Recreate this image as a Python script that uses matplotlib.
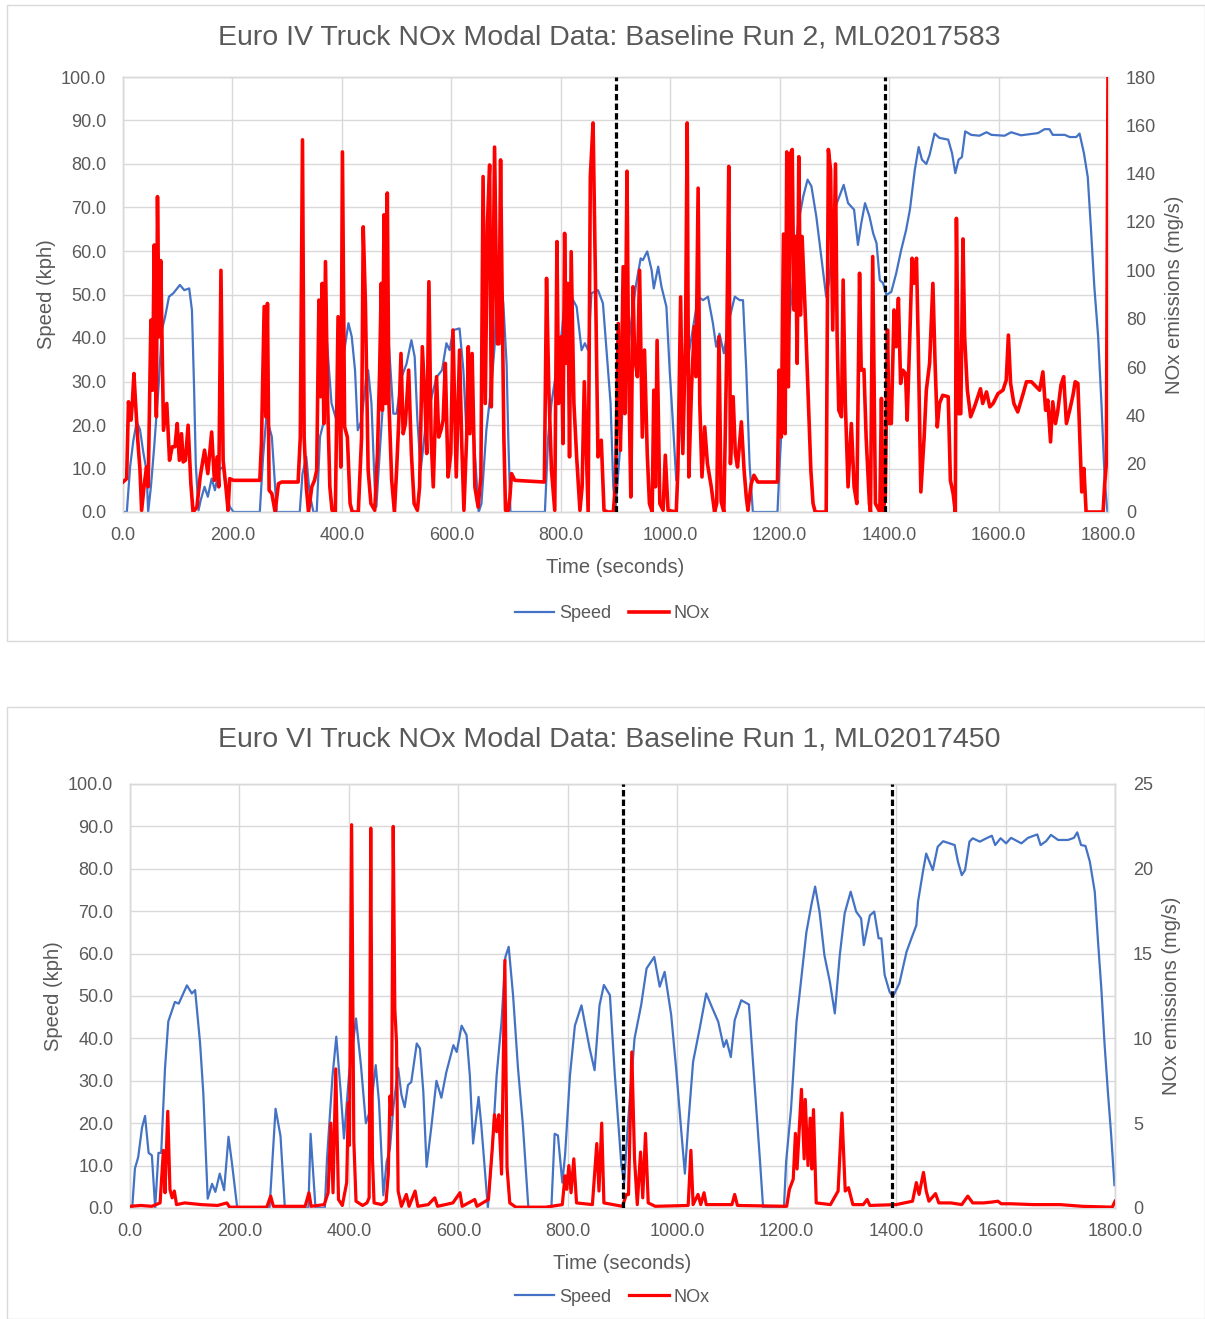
import numpy as np
import matplotlib.pyplot as plt
from matplotlib.patches import Rectangle

plt.rcParams['font.family'] = ['Liberation Sans', 'DejaVu Sans']

# ---- Euro IV run (top) ----
iv_speed_t = [0, 7, 13, 19, 25, 31, 37, 43, 46, 51, 57, 65, 71, 77, 84, 92, 104, 112, 121, 126, 130, 133, 138, 142,
              149, 155, 162, 168, 175, 183, 189, 195, 202, 250, 256, 262, 272, 278, 281, 323, 328, 335, 341, 348, 354,
              360, 366, 372, 381, 390, 399, 412, 418, 424, 429, 436, 445, 448, 454, 460, 463, 469, 479, 485, 494, 500,
              509, 518, 527, 533, 538, 544, 552, 564, 573, 583, 591, 597, 603, 615, 622, 628, 637, 643, 650, 655, 664,
              673, 679, 685, 695, 701, 704, 708, 771, 777, 783, 792, 801, 810, 819, 829, 838, 844, 850, 856, 868, 877,
              883, 891, 896, 900, 908, 917, 929, 938, 946, 950, 958, 966, 970, 978, 984, 993, 999, 1005, 1011, 1017,
              1026, 1039, 1051, 1060, 1069, 1078, 1084, 1090, 1098, 1109, 1118, 1127, 1133, 1139, 1145, 1151, 1196,
              1200, 1206, 1215, 1224, 1233, 1243, 1251, 1258, 1267, 1276, 1285, 1291, 1300, 1309, 1317, 1325, 1336,
              1343, 1349, 1356, 1364, 1371, 1377, 1383, 1389, 1395, 1404, 1413, 1422, 1431, 1438, 1447, 1454, 1460,
              1468, 1474, 1483, 1492, 1508, 1515, 1521, 1527, 1533, 1539, 1550, 1565, 1578, 1587, 1611, 1623, 1641,
              1672, 1684, 1693, 1699, 1721, 1730, 1742, 1748, 1756, 1763, 1769, 1775, 1782, 1788, 1794, 1799]
iv_speed = [0, 0, 10.4, 16.5, 20.7, 19, 13.8, 9.5, 0, 5.8, 15, 28.8, 41.8, 44.9, 49.5, 50.3, 52.2, 51, 51.4, 46.4, 28,
            11, 0.4, 2.7, 5.8, 3.5, 7.7, 5, 9.6, 10.4, 5, 1.2, 0, 0, 12.7, 21.9, 17.3, 5.8, 0, 0, 8.8, 12.7, 4.2, 0, 0,
            17.3, 20.3, 40.3, 25, 21.1, 32.6, 43.4, 40.3, 32.6, 18.8, 21.1, 31.8, 32.6, 25, 5.8, 1.2, 13.4, 32.6, 40.3,
            22.6, 22.6, 31, 34, 39.5, 35.7, 21.1, 9.6, 18.8, 26.5, 31, 32.6, 38.8, 37.2, 41.8, 42.2, 32.6, 17.3, 25,
            13.4, 0, 1.9, 18.8, 28.8, 38, 58.7, 48, 34, 17.3, 0, 0, 17.3, 25, 32.6, 40.3, 51.8, 49.5, 47.2, 37.2, 38.8,
            37.2, 50.3, 51, 48, 38, 25, 5.8, 0.4, 14.2, 31, 44, 52.6, 58.3, 57.9, 59.9, 55.6, 51.4, 56.4, 51.8, 47.2,
            32.6, 20.3, 7.3, 17.3, 30.3, 40.3, 49.5, 48.7, 49.5, 43.4, 38, 41, 36.5, 44.9, 49.5, 48.7, 48.7, 32.6, 11.1,
            0, 0, 11.1, 25, 40.3, 52.6, 65.6, 72.5, 76.4, 74.9, 67.9, 58.7, 49.5, 53.3, 69.5, 72.5, 75.2, 71, 69.5,
            61.4, 66.3, 71, 68, 64, 61.8, 53.3, 52.6, 49.9, 50.6, 54.9, 60.2, 64.8, 69.5, 78.7, 83.9, 81, 80, 82.1, 87,
            86, 85.6, 82.5, 77.9, 81, 81.6, 87.5, 86.7, 86.5, 87.3, 86.7, 86.5, 87.3, 86.6, 87.1, 88, 88, 86.7, 86.7,
            86.2, 86.2, 87, 82.5, 77, 64.8, 51.8, 40.3, 25, 7.3, 0]

iv_nox_t = [0, 6.7, 10, 14.6, 17, 20, 23, 27, 31, 34, 39, 43, 46, 51, 54, 57, 61, 63, 66, 69, 74, 80, 85, 90, 95, 99,
            103, 107, 110, 114, 119, 124, 128, 135, 141, 149, 155, 162, 167, 172, 175, 179, 183, 188, 192, 195, 202,
            250, 253, 258, 261, 264, 267, 272, 278, 284, 290, 320, 324, 328, 331, 335, 339, 345, 350, 354, 358, 361,
            364, 367, 370, 374, 378, 382, 388, 393, 398, 401, 405, 410, 415, 419, 430, 436, 439, 443, 448, 453, 460,
            465, 469, 472, 474, 477, 480, 483, 486, 491, 496, 500, 504, 508, 512, 516, 522, 527, 532, 538, 542, 547,
            552, 555, 559, 563, 567, 573, 577, 581, 585, 589, 594, 599, 603, 606, 609, 615, 619, 623, 628, 631, 634,
            638, 643, 649, 654, 658, 662, 666, 670, 673, 676, 679, 684, 687, 690, 693, 696, 699, 704, 707, 710, 716,
            770, 774, 778, 783, 789, 793, 796, 801, 804, 807, 810, 813, 816, 819, 824, 829, 835, 839, 843, 846, 850,
            854, 859, 864, 868, 874, 879, 886, 896, 900, 905, 909, 914, 917, 921, 924, 928, 932, 935, 940, 944, 949,
            953, 958, 962, 967, 970, 973, 976, 981, 987, 991, 996, 1011, 1014, 1019, 1023, 1028, 1031, 1034, 1039,
            1044, 1047, 1051, 1054, 1058, 1063, 1068, 1075, 1081, 1085, 1089, 1093, 1098, 1103, 1107, 1110, 1115,
            1119, 1123, 1130, 1135, 1139, 1142, 1148, 1153, 1160, 1196, 1199, 1203, 1207, 1210, 1213, 1216, 1220,
            1223, 1226, 1229, 1232, 1235, 1238, 1241, 1246, 1250, 1257, 1261, 1265, 1285, 1289, 1293, 1297, 1302,
            1305, 1308, 1313, 1316, 1320, 1325, 1331, 1336, 1341, 1346, 1349, 1354, 1358, 1364, 1366, 1370, 1375,
            1383, 1386, 1389, 1393, 1397, 1400, 1404, 1409, 1413, 1417, 1421, 1425, 1430, 1433, 1438, 1442, 1445,
            1450, 1453, 1458, 1464, 1468, 1474, 1480, 1484, 1488, 1492, 1498, 1508, 1512, 1517, 1521, 1523, 1527,
            1531, 1535, 1538, 1543, 1549, 1556, 1567, 1571, 1578, 1584, 1590, 1599, 1608, 1614, 1618, 1622, 1628,
            1635, 1645, 1651, 1660, 1675, 1681, 1686, 1690, 1695, 1699, 1704, 1708, 1714, 1719, 1724, 1730, 1736,
            1740, 1745, 1750, 1752, 1756, 1760, 1791, 1794, 1797, 1800]
iv_nox = [12.4, 13.8, 45.6, 38, 44.9, 57.3, 44.9, 29.7, 17.5, 0.7, 11.7, 18.6, 10.4, 79.4, 50.4, 110.5, 39.4, 130.5,
          72.5, 104, 33.8, 44.9, 21.4, 27, 27, 36.6, 21.4, 32.4, 20.7, 21.4, 35.9, 11.7, 0, 2, 14.5, 25.6, 15.9, 33.1,
          13.1, 22.8, 10.4, 100, 21.4, 10.4, 0.7, 13.8, 13.1, 13.1, 28.3, 85, 39.4, 86.3, 9, 7.6, 0, 11.7, 12.4, 12.4,
          31, 154, 31, 10.4, 0, 10.4, 13.1, 17.3, 87.7, 47.7, 94.6, 36.6, 103.6, 44.9, 10.4, 0.7, 0, 80.8, 18.6, 149,
          35.2, 31, 3.5, 0, 0, 31, 118, 86.3, 17.3, 3.5, 0.7, 24.2, 58.7, 94.6, 42.1, 123, 44.9, 132, 44.9, 13.1, 0,
          17.3, 38, 65.6, 32.4, 36.6, 58.7, 24.2, 3.5, 0.7, 10.4, 68.4, 44.9, 24.2, 95.3, 31, 10.4, 56, 31, 33.8, 38,
          61.5, 14.5, 24.2, 75.3, 44.9, 14.5, 67, 28.3, 0.7, 31, 68.4, 32.4, 65.6, 10.4, 2, 14.5, 138.8, 44.9, 119.5,
          143.6, 43.5, 86.3, 151, 69.6, 69.6, 145.7, 86.3, 31, 0.7, 0.7, 6.2, 15.9, 13.1, 12.4, 96.7, 51.8, 17.3, 0.7,
          111.9, 44.9, 72.5, 28.3, 115.3, 61.5, 94.6, 22.8, 107.7, 44.9, 22.8, 0.7, 10.4, 53.9, 31, 0, 138.8, 161,
          86.3, 22.8, 29.7, 0.7, 0, 0, 11.7, 78, 25.5, 101.5, 40.7, 141, 58.7, 6.2, 93.2, 64.2, 56, 100, 31, 67, 24.2,
          3.5, 0, 50.4, 10.4, 71, 3.5, 0.7, 23.5, 0.7, 0, 17.3, 89, 24.2, 72.5, 161, 14.5, 51.8, 76.7, 56, 134, 44.9,
          14.5, 35.2, 20, 10.4, 0, 3.5, 72.5, 4.4, 0, 62.9, 143, 20, 47.7, 24.2, 18.6, 37.3, 17.3, 6.2, 0.7, 11.7,
          15.2, 12.4, 12.4, 58.7, 31, 115, 32.4, 149, 51.8, 148.5, 150, 83.6, 114, 61.5, 147, 81.5, 114, 86.3, 61.5,
          17.3, 3.5, 0, 0, 150, 141.6, 75.3, 144, 72.5, 42.1, 39.4, 96, 44.9, 10.4, 36.6, 10.4, 3.5, 98.8, 58.7, 59,
          31, 3.5, 0, 105.7, 3.5, 0, 47, 0, 6.2, 75.3, 36.6, 36.6, 83.6, 68.4, 88.4, 53.2, 58.7, 57.3, 38, 73.9, 105,
          94.6, 105, 72.5, 8.3, 31, 50.4, 61.5, 94.6, 61.5, 35.2, 44.9, 48.3, 47.7, 13.1, 7.6, 0, 121.5, 40.7, 40.7,
          113, 72.5, 50.4, 39.4, 43.5, 51, 44.9, 49.7, 43.5, 44.9, 49, 50.4, 54.5, 73.2, 53.2, 44.9, 41.4, 49, 53.9,
          53.9, 50.4, 58, 42.1, 46.3, 29, 45.6, 36.6, 41.4, 52.5, 56, 36.6, 42.1, 48.3, 53.9, 53.2, 21.4, 8.3, 18, 0,
          0, 11.7, 20, 180]

# ---- Euro VI run (bottom) ----
vi_speed_t = [0, 4, 9, 15, 22, 27.5, 34, 40, 46, 52, 57, 64, 70, 82, 89, 104, 113, 119, 128, 134, 142, 150, 156, 164,
              172, 180, 186, 196, 255, 266, 275, 283, 326, 330, 339, 356, 360, 370, 377, 385, 391, 400, 413, 422, 431,
              440, 449, 455, 463, 469, 475, 481, 490, 496, 502, 508, 514, 524, 530, 536, 542, 551, 560, 569, 578, 591,
              597, 606, 615, 621, 627, 637, 642, 654, 662, 670, 679, 686, 692, 700, 709, 718, 728, 770, 776, 782, 790,
              795, 804, 813, 825, 840, 849, 858, 866, 877, 886, 898, 903, 910, 922, 934, 944, 958, 968, 977, 989, 998,
              1008, 1014, 1020, 1029, 1041, 1053, 1062, 1075, 1085, 1090, 1098, 1105, 1117, 1131, 1141, 1151, 1157,
              1195, 1199, 1208, 1218, 1230, 1236, 1245, 1252, 1260, 1269, 1279, 1288, 1297, 1306, 1317, 1327, 1336,
              1341, 1352, 1360, 1368, 1373, 1379, 1388, 1394, 1406, 1419, 1428, 1437, 1440, 1449, 1455, 1467, 1476,
              1486, 1498, 1507, 1513, 1520, 1526, 1534, 1540, 1553, 1565, 1575, 1581, 1591, 1601, 1610, 1629, 1641,
              1658, 1664, 1674, 1683, 1696, 1714, 1725, 1731, 1738, 1746, 1754, 1763, 1769, 1775, 1781, 1787, 1793,
              1799]
vi_speed = [0, 0, 9.3, 12, 19, 21.7, 13, 12.4, 0, 13, 13, 33, 44, 48.6, 48.2, 52.5, 50.6, 51.4, 39, 27, 2.2, 5.7, 3.8,
            8.1, 4.2, 16.8, 10.9, 0, 0, 23.4, 17, 0, 0, 17.5, 0, 0, 11.6, 31, 40.4, 27.4, 16.4, 31, 44.7, 33.7, 20,
            23.4, 33.7, 25, 3, 10.9, 14, 23.4, 33, 26.7, 23.8, 29, 29.7, 38.8, 37.6, 27.4, 9.7, 19.5, 30, 26, 32, 38.4,
            36.8, 43, 40.8, 31.3, 15.2, 26.2, 19.5, 0, 14, 31.3, 44, 59.2, 61.6, 50.2, 33, 19.5, 0, 0, 17.5, 17.1, 6,
            12.4, 31.3, 43, 47.8, 37.6, 32.5, 47.8, 52.6, 50.2, 31.3, 10, 6, 20, 40, 47.8, 56.5, 59.2, 52.2, 55.7, 45.5,
            32.9, 17.2, 8.1, 19.5, 34.5, 42.3, 50.6, 47.8, 43.9, 38, 39.6, 35.6, 44.3, 49, 48, 29.7, 11.6, 0, 0, 10.9,
            23.4, 43.9, 58, 65, 71.4, 75.8, 69.9, 59.6, 53.3, 45.9, 59.6, 69.5, 74.6, 69.9, 68.3, 62, 69, 69.9, 63.6,
            63.6, 55, 51, 49.8, 53, 60.4, 63.6, 66.7, 72.2, 79.3, 83.6, 79.7, 85.2, 86.5, 86, 85.6, 81.7, 78.5, 79.7,
            86.4, 87.2, 86.4, 87.2, 87.8, 85.6, 87.2, 86, 87.3, 86, 87.3, 88.1, 85.6, 86.5, 88, 86.8, 86.8, 87.3, 88.6,
            85.6, 85.4, 81.7, 74.6, 62.8, 51.8, 38.5, 27.4, 17.2, 5.4]

vi_nox_t = [0, 20, 40, 55, 61, 64, 69, 73, 77, 81, 85, 100, 130, 160, 177, 182, 250, 257, 262, 320, 327, 331, 355, 362,
            367, 371, 376, 381, 388, 396, 399, 401, 405, 409, 413, 425, 433, 437, 440, 443, 446, 460, 468, 472, 475,
            478, 481, 484, 487, 490, 496, 505, 510, 521, 526, 545, 557, 562, 590, 603, 607, 630, 634, 655, 662, 666,
            670, 674, 679, 685, 689, 694, 705, 760, 790, 795, 798, 802, 806, 811, 816, 845, 853, 857, 862, 866, 900,
            907, 911, 917, 922, 927, 933, 937, 942, 947, 960, 1020, 1025, 1029, 1038, 1043, 1049, 1053, 1100, 1105,
            1110, 1200, 1205, 1212, 1216, 1219, 1227, 1232, 1234, 1239, 1243, 1246, 1249, 1254, 1280, 1294, 1301,
            1307, 1313, 1321, 1340, 1347, 1352, 1400, 1430, 1437, 1442, 1450, 1455, 1460, 1472, 1478, 1500, 1520,
            1531, 1540, 1560, 1575, 1586, 1592, 1610, 1650, 1700, 1740, 1795, 1800]
vi_nox = [0.1, 0.15, 0.1, 0.3, 3.4, 0.9, 5.7, 1.1, 0.6, 1.0, 0.2, 0.3, 0.2, 0.15, 0.3, 0.05, 0.05, 0.7, 0.1, 0.1, 0.9,
          0.1, 0.2, 0.9, 5, 0.9, 8.2, 0.5, 0.15, 1.5, 6.2, 3.7, 22.6, 4, 0.4, 0.15, 0.3, 0.6, 22.4, 3, 0.3, 0.2, 0.4,
          2, 6.6, 5.5, 22.5, 11.7, 9.8, 1, 0.1, 0.8, 0.1, 1, 0.1, 0.2, 0.6, 0.1, 0.3, 0.9, 0.1, 0.5, 0.1, 0.5, 3.5, 5.5,
          4.5, 5.5, 2, 14.6, 2.4, 0.3, 0.05, 0.05, 0.2, 1.9, 1.1, 2.5, 0.9, 2.9, 0.3, 0.2, 3.8, 1.0, 5, 0.3, 0.1, 0.8,
          0.8, 9.2, 2.9, 0.2, 3.3, 0.6, 4.4, 0.3, 0.1, 0.15, 3.4, 0.2, 0.8, 0.2, 0.9, 0.2, 0.2, 0.8, 0.15, 0.1, 1.1,
          1.7, 4.4, 2.3, 7, 2.9, 6.4, 2.5, 5.3, 2.3, 5.8, 0.3, 0.2, 1.0, 5.6, 1.0, 1.2, 0.2, 0.2, 0.5, 0.15, 0.2, 0.4,
          1.5, 0.8, 2.1, 1, 0.4, 0.85, 0.3, 0.3, 0.2, 0.7, 0.3, 0.3, 0.35, 0.4, 0.25, 0.25, 0.2, 0.2, 0.1, 0.05, 0.4]

markers_t = [900, 1393]

BLUE = '#4472C4'
RED = '#FF0000'
GRID = '#D9D9D9'
TXT = '#595959'

W, H = 1205, 1319
fig = plt.figure(figsize=(W / 100, H / 100), dpi=100)


def fx(px):
    return px / W


def fy(py):
    return 1 - py / H


def panel(box, ax_px, title, title_y, legend_y, nox_max, nox_step,
          speed_t, speed, nox_t, nox, red_lw):
    x0, y0, x1, y1 = box
    fig.patches.append(Rectangle((fx(x0), fy(y1)), fx(x1 - x0), (y1 - y0) / H,
                                 transform=fig.transFigure, fill=False,
                                 edgecolor=GRID, lw=1))
    l, t, r, b = ax_px
    ax = fig.add_axes([fx(l), fy(b), fx(r - l), (b - t) / H])
    ax.plot(speed_t, speed, color=BLUE, lw=1.6, label='Speed', zorder=3)
    ax.set_xlim(0, 1800)
    ax.set_ylim(0, 100)
    ax.set_xticks(np.arange(0, 1801, 200))
    ax.set_yticks(np.arange(0, 101, 10))
    ax.set_xticklabels([f'{v:.1f}' for v in np.arange(0, 1801, 200)])
    ax.set_yticklabels([f'{v:.1f}' for v in np.arange(0, 101, 10)])
    ax.grid(True, color=GRID, lw=1)
    ax.set_axisbelow(True)
    ax.tick_params(length=0, labelsize=13, colors=TXT, pad=11)
    ax.tick_params(axis='y', pad=12)
    ax.set_xlabel('Time (seconds)', fontsize=14.5, color=TXT, labelpad=10)
    ax.set_ylabel('Speed (kph)', fontsize=14.5, color=TXT, labelpad=4)

    ax2 = ax.twinx()
    ax2.plot(nox_t, nox, color=RED, lw=red_lw, label='NOx',
             solid_joinstyle='round', zorder=3)
    ax2.set_ylim(0, nox_max)
    ax2.set_yticks(np.arange(0, nox_max + 1, nox_step))
    ax2.tick_params(length=0, labelsize=13, colors=TXT, pad=13)
    ax2.set_ylabel('NOx emissions (mg/s)', fontsize=14.5, color=TXT, labelpad=6)
    for mt in markers_t:
        ax2.axvline(mt, color='black', lw=2.3, ls=(0, (2, 1)), zorder=5)
    for a in (ax, ax2):
        for s in a.spines.values():
            s.set_color(GRID)
            s.set_linewidth(1)

    fig.text(fx(609), fy(title_y), title, ha='center', va='center',
             fontsize=20.5, color=TXT)
    h1, l1 = ax.get_legend_handles_labels()
    h2, l2 = ax2.get_legend_handles_labels()
    fig.legend(h1 + h2, l1 + l2, loc='center', bbox_to_anchor=(fx(612), fy(legend_y)),
               ncol=2, frameon=False, fontsize=13, handlelength=2.2,
               handletextpad=0.25, columnspacing=1.0, labelcolor=TXT)


panel((7, 5, 1205, 641), (123, 77, 1108, 512),
      'Euro IV Truck NOx Modal Data: Baseline Run 2, ML02017583', 37, 614,
      180, 20, iv_speed_t, iv_speed, iv_nox_t, iv_nox, 2.6)
panel((7, 707, 1205, 1319), (130, 784, 1115, 1208),
      'Euro VI Truck NOx Modal Data: Baseline Run 1, ML02017450', 740, 1297,
      25, 5, vi_speed_t, vi_speed, vi_nox_t, vi_nox, 2.3)

fig.savefig('out.png', dpi=100)
